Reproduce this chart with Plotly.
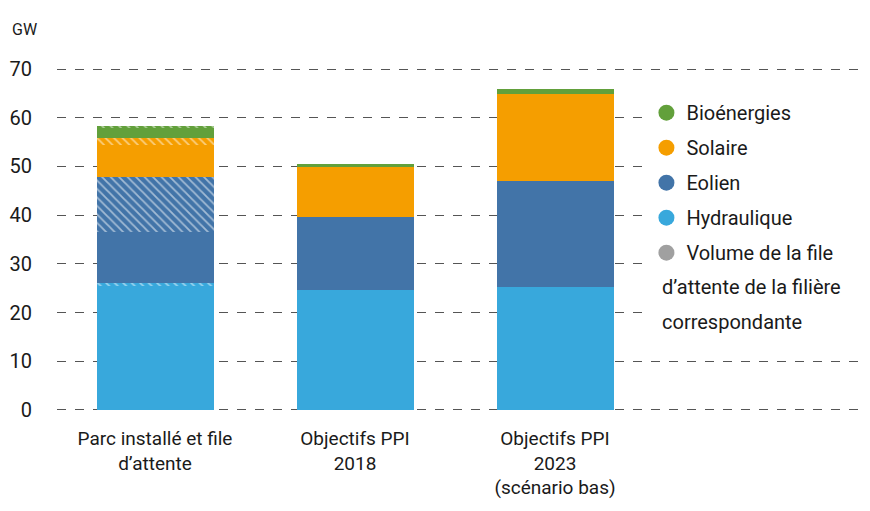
import plotly.graph_objects as go

# categories (x positions 0,1,2)
categories = ["Parc installé et file<br>d’attente", "Objectifs PPI<br>2018", "Objectifs PPI<br>2023<br>(scénario bas)"]
x_pos = [0, 1, 2]

# GW values
hydraulique = [25.5, 24.6, 25.3]
eolien = [10.5, 15.1, 21.7]
solaire = [6.4, 10.2, 17.9]
bioenergies = [1.9, 0.6, 1.0]

# queue volumes (only the first bar)
file_hydraulique = [0.6, 0, 0]
file_eolien = [11.3, 0, 0]
file_solaire = [1.6, 0, 0]
file_bio = [0.6, 0, 0]

C_HYDRO = "#38A8DC"
C_EOL = "#4274A8"
C_SOL = "#F59E00"
C_BIO = "#62A03B"
C_FILE = "#A0A0A0"

FONT = "Roboto"
TXT = "#1a1a1a"

fig = go.Figure()

stack = [
    (hydraulique, C_HYDRO, False),
    (file_hydraulique, C_HYDRO, True),
    (eolien, C_EOL, False),
    (file_eolien, C_EOL, True),
    (solaire, C_SOL, False),
    (file_solaire, C_SOL, True),
    (bioenergies, C_BIO, False),
    (file_bio, C_BIO, True),
]
for vals, col, hatched in stack:
    marker = dict(color=col, line=dict(width=0))
    if hatched:
        marker["pattern"] = dict(shape="\\", fgcolor="white", bgcolor=col, size=6, solidity=0.3, fillmode="overlay")
    fig.add_trace(go.Bar(x=x_pos, y=vals, width=0.585, marker=marker, showlegend=False, hoverinfo="skip"))

# legend entries (one group each so tracegroupgap spaces them)
for name, col in [("Bioénergies", C_BIO), ("Solaire", C_SOL), ("Eolien", C_EOL),
                  ("Hydraulique", C_HYDRO), ("Volume de la file", C_FILE)]:
    fig.add_trace(go.Scatter(x=[None], y=[None], mode="markers", name=name, legendgroup=name,
                             marker=dict(color=col, size=16, symbol="circle")))

fig.update_layout(
    barmode="stack",
    width=870, height=511,
    margin=dict(l=49, r=8, t=56, b=104, autoexpand=False),
    paper_bgcolor="white", plot_bgcolor="white",
    font=dict(family=FONT, size=20, color=TXT),
    legend=dict(x=0.725, y=0.917, xanchor="left", yanchor="top", traceorder="grouped",
                font=dict(size=20, color=TXT), itemwidth=30, tracegroupgap=6, bgcolor="rgba(0,0,0,0)"),
    xaxis=dict(range=[-0.49, 3.575], tickvals=x_pos, ticktext=categories, showgrid=False,
               showline=False, zeroline=False, ticks="", ticklabelstandoff=10, tickfont=dict(size=19)),
    yaxis=dict(range=[-1.03, 71.03], tickvals=[0, 10, 20, 30, 40, 50, 60, 70], showgrid=True,
               gridcolor="#555555", griddash="dash", gridwidth=1, zeroline=False, showline=False,
               ticks="", ticklabelstandoff=24, tickfont=dict(size=20)),
    # white box behind the legend hides the gridlines there
    shapes=[dict(type="rect", xref="paper", yref="paper", x0=0.723, x1=1.0, y0=0.2, y1=0.93,
                 fillcolor="white", line=dict(width=0), layer="above")],
    annotations=[
        dict(text="GW", xref="paper", yref="paper", x=-0.058, y=1.098, xanchor="left", yanchor="middle",
             showarrow=False, font=dict(size=16, color=TXT)),
        dict(text="d’attente de la filière", xref="paper", yref="paper", x=0.7417, y=0.3647,
             xanchor="left", yanchor="middle", showarrow=False, font=dict(size=20, color=TXT)),
        dict(text="correspondante", xref="paper", yref="paper", x=0.7417, y=0.265,
             xanchor="left", yanchor="middle", showarrow=False, font=dict(size=20, color=TXT)),
    ],
)

fig.write_html("out.html")
